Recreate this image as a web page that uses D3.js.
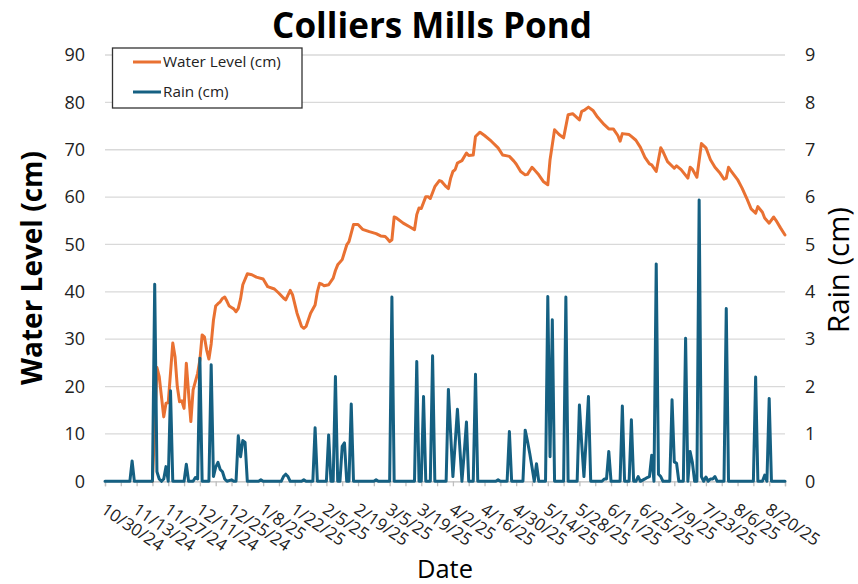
<!DOCTYPE html>
<html>
<head>
<meta charset="utf-8">
<script src="https://cdn.jsdelivr.net/npm/d3@7"></script>
<style>
  html, body { margin: 0; padding: 0; background: #fff; }
  svg { display: block; font-family: "Open Sans", "Noto Sans", sans-serif; }
</style>
</head>
<body>
<svg id="chart" width="858" height="584"></svg>
<script>
// ---- data (days counted from 10/30/24) ----
const startDate = new Date(2024, 9, 30);
const lastDay = 301;

const levelDay = [21,23,24,26,27,28,30,31,32,33,34,35,36,37,38,39,41,42,43,44,45,46,47,48,49,50,51,52,53,54,55,56,57,58,59,60,61,63,65,67,70,72,75,77,79,80,82,83,85,87,88,89,91,93,94,95,96,97,99,101,102,103,105,107,108,110,112,114,117,120,122,124,125,126,127,128,129,132,135,137,138,139,140,142,143,144,146,148,149,151,152,153,154,155,156,158,160,161,163,164,166,168,171,174,176,178,179,181,182,184,186,187,189,190,192,194,196,197,199,201,203,205,207,210,211,212,214,216,218,221,223,225,227,228,229,232,233,235,237,239,241,242,244,246,247,249,252,253,255,258,259,260,262,264,266,268,270,272,274,275,276,277,280,282,284,286,288,289,291,292,294,296,297,299,301];
const levelCm = [0,24,22.1,13.6,16.5,16.6,29.2,26.3,20,16.8,17.0,15.4,24.9,18.6,12.6,19.3,22.8,25.6,30.9,30.5,27.7,25.8,29,34,37,37.5,37.9,38.6,38.9,38.0,37.0,36.7,36.4,35.8,36.5,38.5,41.5,43.8,43.6,43.1,42.7,41.1,40.6,39.7,38.7,38.3,40.3,39.4,35.5,32.7,32.3,32.7,35.5,37.2,40,41.8,41.6,41.3,41.5,42.9,44.5,45.7,46.8,49.9,50.6,54.2,54.2,53.2,52.7,52.3,51.8,51.7,51.2,50.6,51.0,55.8,55.6,54.5,53.7,53.1,56.3,57.7,57.6,60.1,60.1,59.7,62.2,63.5,63.3,62.2,61.8,64.0,65.4,65.8,67.2,67.7,69.3,68.8,68.9,72.8,73.7,73.0,71.8,70.4,68.9,68.7,68.6,67.6,67.0,65.4,64.7,64.8,66.3,65.8,64.7,63.3,62.6,67.9,74.2,73.2,72.5,77.4,77.6,76.3,78.1,78.3,79.0,78.3,76.9,75.3,74.4,74.4,73.0,71.8,73.4,73.2,72.8,72.0,70.5,68.4,67.0,66.8,65.4,70.4,69.6,67.5,66.1,66.6,65.8,64.0,66.3,65.9,64.2,71.3,70.4,67.9,66.3,65.2,63.8,64.0,66.3,65.6,63.7,61.9,59.8,57.5,56.6,58.0,56.8,55.6,54.5,55.8,55.1,53.5,52.0];

const rainDay = [0,11,12,13,21,22,23,24,25,26,27,28,29,30,35,36,37,39,40,41,42,43,46,47,48,49,50,51,52,53,54,56,57,58,59,60,61,62,63,68,69,70,78,79,80,81,82,87,88,89,92,93,94,98,99,100,101,102,103,104,105,106,107,108,109,110,119,120,121,126,127,128,137,138,139,140,141,142,144,145,146,151,152,153,154,155,156,157,158,159,160,161,163,164,165,173,174,175,178,179,180,185,186,187,188,189,190,191,192,195,196,197,198,199,203,204,205,209,210,211,212,213,214,215,220,221,222,223,224,228,229,230,232,233,234,235,236,237,239,240,241,242,243,244,245,246,247,250,251,252,253,254,256,257,258,259,260,261,262,263,264,265,266,267,268,269,270,271,274,275,276,287,288,289,291,292,293,294,295,301];
const rainCm = [0,0,0.43,0,0,4.16,0.2,0.05,0,0.05,0.31,0,1.91,0,0,0.36,0,0,0.08,0.05,2.6,0,0,2.46,0.1,0.3,0.4,0.25,0.2,0.05,0,0.03,0,0,0.96,0.52,0.86,0.82,0,0,0.03,0,0,0.1,0.15,0.1,0,0,0.03,0,0,1.13,0,0,0.98,0,0,2.21,0,0,0.74,0.81,0,0,1.63,0,0,0.03,0,0,3.89,0,0,2.53,0,0,1.79,0,0,2.65,0,0,1.94,1.0,0.1,0.8,1.52,0.76,0,0.6,1.25,0,0,2.26,0,0,0.03,0,0,1.05,0,0,1.08,0.85,0.59,0.3,0,0.37,0,0,3.9,0.52,3.41,0,0,3.89,0,0,1.61,0.8,0.1,0.9,1.79,0,0,0.05,0.05,0.63,0,0,1.59,0,0,1.3,0,0,0.1,0,0.05,0.08,0.1,0.55,0,4.59,0.15,0.1,0,0,1.72,0.41,0.38,0,0,3.02,0,0.63,0.4,0,0,5.94,0.1,0,0.09,0,0.05,0.05,0.1,0,0,3.65,0,0,2.2,0,0,0.13,0,1.75,0,0];

const leftTicks = [0,10,20,30,40,50,60,70,80,90];
const rightTicks = [0,1,2,3,4,5,6,7,8,9];
const titleText = "Colliers Mills Pond";
const leftTitle = "Water Level (cm)";
const rightTitle = "Rain (cm)";
const xTitle = "Date";
const seriesNames = ["Water Level (cm)", "Rain (cm)"];
const seriesColors = ["#E97132", "#156082"];

// ---- layout ----
const svg = d3.select("#chart");
const plot = {left: 105, right: 785, top: 55, bottom: 481.3};
const dayToDate = d => d3.timeDay.offset(startDate, d);

const x = d3.scaleTime().domain([startDate, dayToDate(lastDay)]).range([plot.left, plot.right]);
const yL = d3.scaleLinear().domain([0, 90]).range([plot.bottom, plot.top]);
const yR = d3.scaleLinear().domain([0, 9]).range([plot.bottom, plot.top]);

// gridlines
svg.append("g").selectAll("line").data(leftTicks.filter(t => t > 0)).join("line")
  .attr("x1", plot.left).attr("x2", plot.right)
  .attr("y1", d => yL(d)).attr("y2", d => yL(d))
  .attr("stroke", "#d9d9d9").attr("stroke-width", 1.3);

// left axis labels
const leftAxis = d3.axisLeft(yL).tickValues(leftTicks).tickSize(0).tickPadding(20);
const gL = svg.append("g").attr("transform", `translate(${plot.left},0)`).call(leftAxis);
gL.select(".domain").remove();
gL.selectAll("text").attr("font-size", 18).attr("fill", "#222").attr("font-family", '"Open Sans", sans-serif');

// right axis labels
const rightAxis = d3.axisRight(yR).tickValues(rightTicks).tickSize(0).tickPadding(20);
const gR = svg.append("g").attr("transform", `translate(${plot.right},0)`).call(rightAxis);
gR.select(".domain").remove();
gR.selectAll("text").attr("font-size", 18).attr("fill", "#222").attr("font-family", '"Open Sans", sans-serif');

// bottom axis
const tickDates = d3.range(0, lastDay + 1, 7).map(dayToDate);
const fmt = d3.timeFormat("%-m/%-d/%y");
const bottomAxis = d3.axisBottom(x).tickValues(tickDates).tickSize(5).tickFormat("");
const gB = svg.append("g").attr("transform", `translate(0,${plot.bottom})`).call(bottomAxis);
gB.select(".domain").attr("stroke", "#bfbfbf").attr("stroke-width", 1.3);
gB.selectAll(".tick line").attr("stroke", "#bfbfbf").attr("stroke-width", 1.3);

const labelDates = tickDates.filter((d, i) => i % 2 === 0);
svg.append("g").selectAll("text").data(labelDates).join("text")
  .attr("transform", d => `translate(${x(d) - 5},${plot.bottom + 31}) rotate(34)`)
  .attr("font-size", 17).attr("fill", "#222")
  .text(d => fmt(d));

// lines
const lineL = d3.line().x((d) => x(dayToDate(d[0]))).y(d => yL(d[1])).curve(d3.curveLinear);
const lineR = d3.line().x((d) => x(dayToDate(d[0]))).y(d => yR(d[1])).curve(d3.curveLinear);
const levelData = levelDay.map((d, i) => [d, levelCm[i]]);
const rainData = rainDay.map((d, i) => [d, rainCm[i]]);

svg.append("path").datum(levelData).attr("d", lineL)
  .attr("fill", "none").attr("stroke", seriesColors[0]).attr("stroke-width", 3)
  .attr("stroke-linejoin", "round").attr("stroke-linecap", "round");
svg.append("path").datum(rainData).attr("d", lineR)
  .attr("fill", "none").attr("stroke", seriesColors[1]).attr("stroke-width", 3)
  .attr("stroke-linejoin", "round").attr("stroke-linecap", "round");

// helper to fit text width
function fit(sel, w) {
  const n = sel.node();
  const fs = parseFloat(sel.attr("font-size"));
  const len = n.getComputedTextLength();
  sel.attr("font-size", fs * w / len);
}

// title
const t = svg.append("text").attr("x", 432).attr("y", 38).attr("text-anchor", "middle")
  .attr("font-size", 30).attr("font-weight", "bold").attr("fill", "#000").text(titleText);
fit(t, 320);

// axis titles
const lt = svg.append("text").attr("transform", "translate(42,268) rotate(-90)")
  .attr("text-anchor", "middle").attr("font-size", 26).attr("font-weight", "bold").attr("fill", "#000").text(leftTitle);
fit(lt, 234);
const rt = svg.append("text").attr("transform", "translate(849,270) rotate(-90)")
  .attr("text-anchor", "middle").attr("font-size", 24).attr("fill", "#000").text(rightTitle);
fit(rt, 126);
const xt = svg.append("text").attr("x", 445).attr("y", 578).attr("text-anchor", "middle")
  .attr("font-size", 24).attr("fill", "#000").text(xTitle);
fit(xt, 56);

// legend
const lg = svg.append("g");
lg.append("rect").attr("x", 112.5).attr("y", 48).attr("width", 189.5).attr("height", 60)
  .attr("fill", "#fff").attr("stroke", "#333").attr("stroke-width", 1.3);
const ly = [62, 92];
seriesNames.forEach((name, i) => {
  lg.append("line").attr("x1", 133).attr("x2", 161).attr("y1", ly[i]).attr("y2", ly[i])
    .attr("stroke", seriesColors[i]).attr("stroke-width", 3);
  const tx = lg.append("text").attr("x", 163).attr("y", ly[i] + 5)
    .attr("font-size", 14).attr("fill", "#222").text(name);
  if (i === 0) fit(tx, 118);
  else tx.attr("font-size", lg.select("text").attr("font-size"));
});
</script>
</body>
</html>
